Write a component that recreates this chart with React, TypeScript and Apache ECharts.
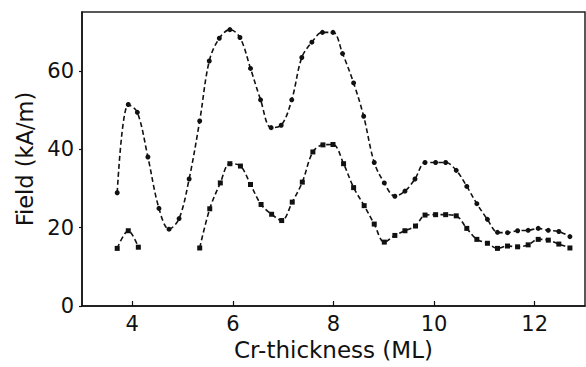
import React, { useEffect, useRef } from "react";
import * as echarts from "echarts";

const upperX = [3.70, 3.92, 4.10, 4.31, 4.53, 4.73, 4.93, 5.13, 5.34, 5.53, 5.73, 5.94, 6.14, 6.35, 6.55, 6.76, 6.96, 7.17, 7.37, 7.57, 7.78, 7.99, 8.18, 8.40, 8.60, 8.81, 9.01, 9.22, 9.42, 9.62, 9.82, 10.03, 10.23, 10.44, 10.65, 10.85, 11.06, 11.26, 11.46, 11.66, 11.87, 12.07, 12.27, 12.48, 12.70];
const upperY = [28.9, 51.4, 49.4, 38.0, 24.9, 19.6, 22.3, 32.4, 47.2, 62.5, 68.3, 70.5, 68.5, 60.6, 52.6, 45.5, 46.1, 52.6, 63.4, 67.3, 69.8, 69.8, 64.4, 56.9, 48.4, 36.6, 31.4, 28.0, 29.3, 32.4, 36.6, 36.6, 36.6, 34.6, 30.5, 26.1, 22.1, 18.8, 18.7, 19.2, 19.3, 19.8, 19.3, 19.0, 17.7];

const lowerX1 = [3.70, 3.92, 4.12];
const lowerY1 = [14.7, 19.2, 15.0];

const lowerX2 = [5.34, 5.54, 5.75, 5.94, 6.15, 6.35, 6.56, 6.77, 6.97, 7.18, 7.38, 7.59, 7.79, 7.99, 8.20, 8.40, 8.61, 8.81, 9.01, 9.22, 9.42, 9.63, 9.82, 10.03, 10.23, 10.44, 10.65, 10.85, 11.06, 11.26, 11.46, 11.66, 11.87, 12.07, 12.27, 12.48, 12.70];
const lowerY2 = [14.8, 24.8, 31.4, 36.3, 35.7, 31.0, 25.9, 23.4, 21.8, 26.5, 31.6, 39.3, 41.1, 41.2, 36.3, 30.2, 25.6, 20.9, 16.3, 18.0, 19.2, 20.4, 23.2, 23.3, 23.3, 23.0, 19.8, 17.0, 16.0, 14.7, 15.3, 15.1, 15.6, 17.0, 16.8, 15.8, 14.8];

const xTicks = [4, 6, 8, 10, 12];
const yTicks = [0, 20, 40, 60];

const xTitle = "Cr-thickness (ML)";
const yTitle = "Field (kA/m)";

const zip = (xs: number[], ys: number[]) => xs.map((x, i) => [x, ys[i]]);

const FONT = "DejaVu Sans, Liberation Sans, sans-serif";

export default function App() {
  const ref = useRef<HTMLDivElement>(null);
  useEffect(() => {
    if (!ref.current) return;
    const chart = echarts.init(ref.current, null, { renderer: "svg" });
    const lineStyle = { color: "#111", width: 1.6, type: [5, 3] as any };
    const common = {
      type: "line",
      smooth: 0.35,
      lineStyle,
      itemStyle: { color: "#111" },
      symbolSize: 5,
      silent: true,
    };
    chart.setOption({
      animation: false,
      backgroundColor: "#fff",
      grid: {
        left: 82,
        right: 1,
        top: 12,
        bottom: 61,
        show: true,
        borderColor: "#222",
        borderWidth: 1.5,
      },
      xAxis: {
        type: "value",
        min: 3,
        max: 13,
        name: xTitle,
        nameLocation: "middle",
        nameGap: 32,
        nameTextStyle: { fontFamily: FONT, fontSize: 23, color: "#111" },
        axisLine: { lineStyle: { color: "#111", width: 1.5 } },
        axisTick: { inside: true, length: 5, customValues: xTicks, lineStyle: { color: "#111", width: 1.2 } },
        axisLabel: { customValues: xTicks, margin: 7, fontFamily: FONT, fontSize: 21, color: "#111" },
        splitLine: { show: false },
      },
      yAxis: {
        type: "value",
        min: 0,
        max: 75,
        name: yTitle,
        nameLocation: "middle",
        nameGap: 43,
        nameTextStyle: { fontFamily: FONT, fontSize: 22.5, color: "#111" },
        axisLine: { show: true, lineStyle: { color: "#111", width: 1.5 } },
        axisTick: { show: true, inside: false, length: 3, customValues: yTicks, lineStyle: { color: "#111", width: 1.2 } },
        axisLabel: { customValues: yTicks, margin: 8, fontFamily: FONT, fontSize: 21, color: "#111" },
        splitLine: { show: false },
      },
      series: [
        { ...common, name: "upper", symbol: "circle", data: zip(upperX, upperY) },
        { ...common, name: "lower1", symbol: "rect", data: zip(lowerX1, lowerY1) },
        { ...common, name: "lower2", symbol: "rect", data: zip(lowerX2, lowerY2) },
      ],
    });
    return () => chart.dispose();
  }, []);
  return (
    <div
      ref={ref}
      style={{ position: "fixed", left: 0, top: 0, width: 586, height: 367, background: "#fff" }}
    />
  );
}
